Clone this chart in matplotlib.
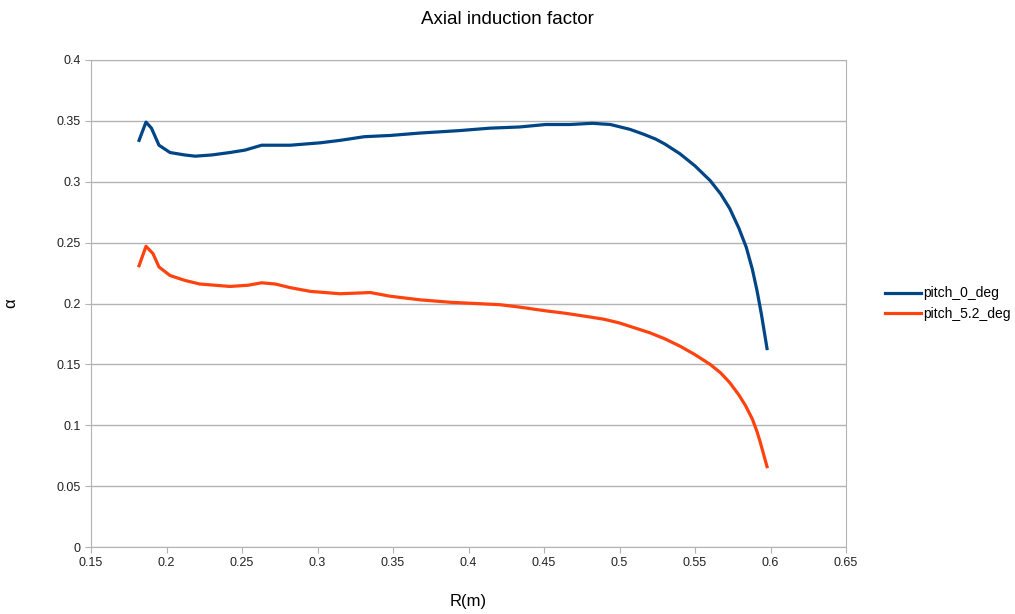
import matplotlib
matplotlib.use("Agg")
import matplotlib.pyplot as plt
from matplotlib.ticker import FuncFormatter, MultipleLocator

plt.rcParams["font.family"] = ["Liberation Sans", "DejaVu Sans"]

# radial position (m) and axial induction factor for both pitch settings
r_pitch0 = [0.1818, 0.1864, 0.190, 0.195, 0.2023, 0.212, 0.219, 0.230, 0.242, 0.252,
            0.263, 0.272, 0.282, 0.302, 0.315, 0.331, 0.348, 0.368, 0.394, 0.414,
            0.434, 0.451, 0.467, 0.482, 0.494, 0.507, 0.516, 0.524, 0.530, 0.540,
            0.550, 0.560, 0.567, 0.573, 0.579, 0.584, 0.588, 0.591, 0.594, 0.5977]
a_pitch0 = [0.334, 0.349, 0.344, 0.330, 0.324, 0.322, 0.321, 0.322, 0.324, 0.326,
            0.330, 0.330, 0.330, 0.332, 0.334, 0.337, 0.338, 0.340, 0.342, 0.344,
            0.345, 0.347, 0.347, 0.348, 0.347, 0.343, 0.339, 0.335, 0.331, 0.323,
            0.313, 0.301, 0.290, 0.278, 0.262, 0.246, 0.228, 0.211, 0.191, 0.163]

r_pitch52 = [0.1818, 0.1864, 0.191, 0.195, 0.2023, 0.212, 0.222, 0.242, 0.254, 0.263,
             0.272, 0.282, 0.295, 0.315, 0.335, 0.348, 0.368, 0.388, 0.421, 0.434,
             0.451, 0.464, 0.480, 0.490, 0.500, 0.510, 0.520, 0.530, 0.540, 0.550,
             0.560, 0.567, 0.573, 0.579, 0.5835, 0.588, 0.591, 0.593, 0.5977]
a_pitch52 = [0.231, 0.247, 0.241, 0.230, 0.223, 0.219, 0.216, 0.214, 0.215, 0.217,
             0.216, 0.213, 0.210, 0.208, 0.209, 0.206, 0.203, 0.201, 0.199, 0.197,
             0.194, 0.192, 0.189, 0.187, 0.184, 0.180, 0.176, 0.171, 0.165, 0.158,
             0.150, 0.143, 0.135, 0.125, 0.116, 0.105, 0.095, 0.087, 0.066]

fig = plt.figure(figsize=(10.15, 6.14), dpi=100)
ax = fig.add_axes([0.0897, 0.1091, 0.7438, 0.7932])

ax.plot(r_pitch0, a_pitch0, color="#004586", lw=2.3, label="pitch_0_deg")
ax.plot(r_pitch52, a_pitch52, color="#ff420e", lw=2.3, label="pitch_5.2_deg")

ax.set_xlim(0.15, 0.65)
ax.set_ylim(0, 0.4)
ax.xaxis.set_major_locator(MultipleLocator(0.05))
ax.yaxis.set_major_locator(MultipleLocator(0.05))
fmt = FuncFormatter(lambda v, _: f"{round(v, 3):g}")
ax.xaxis.set_major_formatter(fmt)
ax.yaxis.set_major_formatter(fmt)
ax.tick_params(labelsize=9, length=4, color="#b3b3b3", labelcolor="#222222")
ax.grid(axis="y", color="#b3b3b3", lw=1)
ax.set_axisbelow(True)
for s in ax.spines.values():
    s.set_color("#b3b3b3")

fig.suptitle("Axial induction factor", x=0.5, y=0.968, fontsize=13.5, va="center")
ax.set_xlabel("R(m)", fontsize=12, labelpad=18)
ax.set_ylabel("α", fontsize=12)
ax.yaxis.set_label_coords(-0.097, 0.5)

ax.legend(loc="center left", bbox_to_anchor=(1.035, 0.5), frameon=False,
          fontsize=10, handlelength=2.6, handletextpad=0.15, labelspacing=0.45)

fig.savefig("out.png", dpi=100)
